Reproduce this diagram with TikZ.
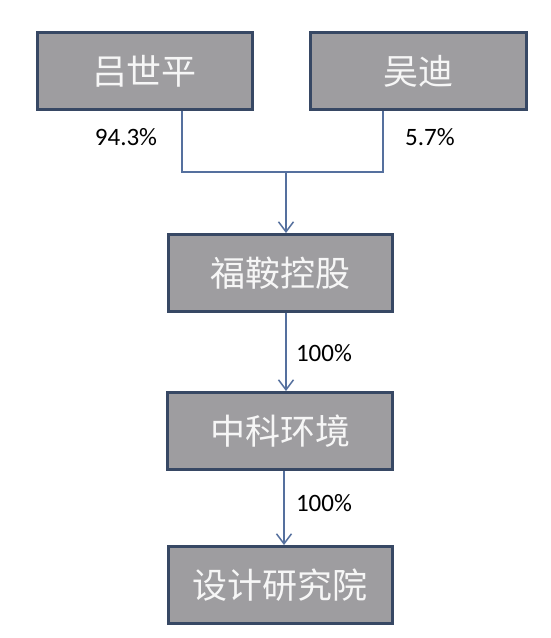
\documentclass[tikz,border=0pt]{standalone}
\usepackage{fontspec}
\setmainfont{Carlito}
\newfontfamily\cjk{Noto Sans CJK SC}
\usetikzlibrary{arrows.meta}
\definecolor{boxfill}{RGB}{158,157,160}
\definecolor{boxedge}{RGB}{55,72,100}
\definecolor{linec}{RGB}{85,112,158}
\definecolor{boxtext}{RGB}{246,246,246}
\begin{document}
\begin{tikzpicture}[x=1pt,y=-1pt,
  box/.style={draw=boxedge, line width=3pt, fill=boxfill, text=boxtext,
    inner sep=0pt, minimum height=77pt, font=\cjk\fontsize{35}{35}\selectfont},
  conn/.style={draw=linec, line width=1.5pt},
  arr/.style={conn, -{Straight Barb[length=10pt,width=15pt,line width=1.5pt]}},
  pct/.style={font=\fontsize{25}{25}\selectfont, text=black, inner sep=0pt}]
\useasboundingbox (0,0) rectangle (550,638);
\fill[white] (0,0) rectangle (550,638);
\node[box, minimum width=215pt] (b1) at (144.5,71) {吕世平};
\node[box, minimum width=216pt] (b2) at (418,71) {吴迪};
\node[box, minimum width=224pt] (b3) at (280,273) {福鞍控股};
\node[box, minimum width=225pt] (b4) at (280,431) {中科环境};
\node[box, minimum width=224pt] (b5) at (280,585) {设计研究院};
\coordinate (t1) at (182,0);
\coordinate (t2) at (383,0);
\coordinate (j) at (286,172);
\coordinate (c1) at (286,0);
\coordinate (c2) at (284,0);
\draw[conn] (t1 |- b1.south) |- (j);
\draw[conn] (t2 |- b2.south) |- (j);
\draw[arr] (j) -- (j |- b3.north);
\draw[arr] (c1 |- b3.south) -- (c1 |- b4.north);
\draw[arr] (c2 |- b4.south) -- (c2 |- b5.north);
\node[pct] (l1) at (126,137) {94.3\%};
\node[pct] (l2) at (430,137) {5.7\%};
\node[pct] (l3) at (324,353) {100\%};
\node[pct] (l4) at (324,503) {100\%};
\end{tikzpicture}
\end{document}
